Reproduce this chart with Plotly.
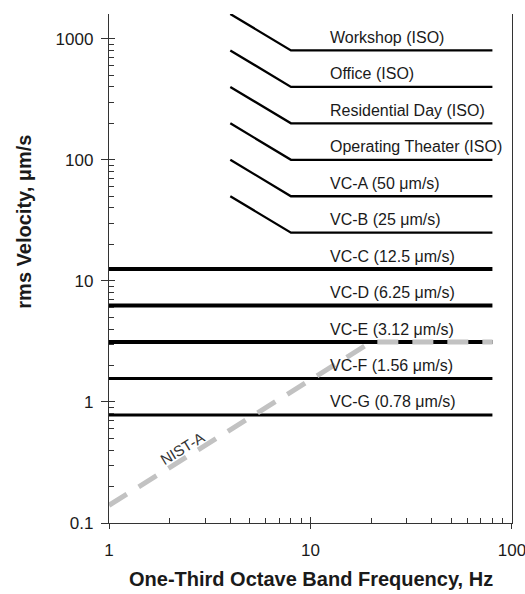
import math
import plotly.graph_objects as go

# ISO / VC criterion curves: sloped (constant displacement) from 4 to 8 Hz, flat to 80 Hz
iso_freq = [4, 8, 80]
iso_names = ["Workshop (ISO)", "Office (ISO)", "Residential Day (ISO)",
             "Operating Theater (ISO)", "VC-A (50 μm/s)", "VC-B (25 μm/s)"]
iso_start = [1600, 800, 400, 200, 100, 50]
iso_level = [800, 400, 200, 100, 50, 25]

# Stricter VC curves: flat across 1 to 80 Hz
flat_freq = [1, 80]
flat_names = ["VC-C (12.5 μm/s)", "VC-D (6.25 μm/s)", "VC-E (3.12 μm/s)",
              "VC-F (1.56 μm/s)", "VC-G (0.78 μm/s)"]
flat_level = [12.5, 6.25, 3.12, 1.56, 0.78]

# NIST-A criterion
nist_freq = [1, 20, 80]
nist_vel = [0.14, 3.12, 3.12]

x_ticks = [1, 10, 100]
x_ticktext = ["1", "10", "100"]
y_ticks = [0.1, 1, 10, 100, 1000]
y_ticktext = ["0.1", "1", "10", "100", "1000"]

FONT = "Liberation Sans, Arial, sans-serif"
INK = "#1a1a1a"
AXIS = "#333333"

x_range = [0, 2.0003]
y_range = [-1, math.log10(1600)]

x_minor = [m * 10 ** d for d in range(0, 2) for m in range(2, 10)]
y_minor = [m * 10 ** d for d in range(-1, 4) for m in range(2, 10) if m * 10 ** d < 1600]

fig = go.Figure()

for name, v0, v in zip(iso_names, iso_start, iso_level):
    fig.add_trace(go.Scatter(x=iso_freq, y=[v0, v, v], mode="lines",
                             line=dict(color="black", width=2.3),
                             name=name, showlegend=False, hoverinfo="skip"))

flat_widths = [4, 4, 4, 3, 3]
for name, v, w in zip(flat_names, flat_level, flat_widths):
    fig.add_trace(go.Scatter(x=flat_freq, y=[v, v], mode="lines",
                             line=dict(color="black", width=w),
                             name=name, showlegend=False, hoverinfo="skip"))

fig.add_trace(go.Scatter(x=nist_freq, y=nist_vel, mode="lines",
                         line=dict(color="#c2c2c2", width=5, dash="21px,14px"),
                         name="NIST-A", showlegend=False, hoverinfo="skip"))

# carrier for the overlay axes that draw the inward half of the major ticks
fig.add_trace(go.Scatter(x=[None], y=[None], xaxis="x2", yaxis="y2",
                         showlegend=False, hoverinfo="skip"))

# curve labels, sitting just above each line
label_x = 12.2
for name, v in zip(iso_names + flat_names, iso_level + flat_level):
    fig.add_annotation(x=math.log10(label_x), y=math.log10(v), text=name,
                       xanchor="left", yanchor="middle", yshift=13,
                       showarrow=False, font=dict(family=FONT, size=16, color=INK))

fig.add_annotation(x=math.log10(2.3), y=math.log10(0.415), text="NIST-A",
                   textangle=-31, showarrow=False,
                   font=dict(family=FONT, size=15, color="#333333"))

# axis titles
fig.add_annotation(xref="paper", yref="paper", x=0.5, y=0, yshift=-56,
                   xanchor="center", yanchor="middle", showarrow=False,
                   text="<b>One-Third Octave Band Frequency, Hz</b>",
                   font=dict(family=FONT, size=20, color=INK))
fig.add_annotation(xref="paper", yref="paper", x=0, y=0.592, xshift=-85,
                   xanchor="center", yanchor="middle", showarrow=False,
                   textangle=-90, text="<b>rms Velocity, μm/s</b>",
                   font=dict(family=FONT, size=20, color=INK))

fig.update_layout(
    width=525, height=594,
    margin=dict(l=109, r=13, t=14, b=71, autoexpand=False),
    paper_bgcolor="white", plot_bgcolor="white",
    showlegend=False,
    xaxis=dict(type="log", range=x_range, showgrid=False, zeroline=False,
               automargin=False,
               showline=True, linecolor=AXIS, linewidth=1.3,
               tickmode="array", tickvals=x_ticks, ticktext=x_ticktext,
               ticks="outside", ticklen=5, tickwidth=1.3, tickcolor=AXIS,
               ticklabelstandoff=6, ticklabeloverflow="allow",
               tickfont=dict(family=FONT, size=17, color=INK),
               minor=dict(tickmode="array", tickvals=x_minor, ticks="inside",
                          ticklen=5, tickwidth=1.1, tickcolor=AXIS, showgrid=False)),
    yaxis=dict(type="log", range=y_range, showgrid=False, zeroline=False,
               automargin=False,
               showline=True, linecolor=AXIS, linewidth=1.3, mirror=True,
               tickmode="array", tickvals=y_ticks, ticktext=y_ticktext,
               ticks="outside", ticklen=7, tickwidth=1.3, tickcolor=AXIS,
               ticklabelstandoff=4,
               tickfont=dict(family=FONT, size=17, color=INK),
               minor=dict(tickmode="array", tickvals=y_minor, ticks="inside",
                          ticklen=5, tickwidth=1.1, tickcolor=AXIS, showgrid=False)),
    xaxis2=dict(type="log", range=x_range, overlaying="x", anchor="y", side="bottom",
                automargin=False,
                showgrid=False, zeroline=False, showline=False, showticklabels=False,
                tickmode="array", tickvals=x_ticks, ticks="inside", ticklen=6,
                tickwidth=1.3, tickcolor=AXIS),
    yaxis2=dict(type="log", range=y_range, overlaying="y", anchor="x", side="left",
                automargin=False,
                showgrid=False, zeroline=False, showline=False, showticklabels=False,
                tickmode="array", tickvals=y_ticks, ticks="inside", ticklen=6,
                tickwidth=1.3, tickcolor=AXIS),
)

fig.write_html("out.html")
